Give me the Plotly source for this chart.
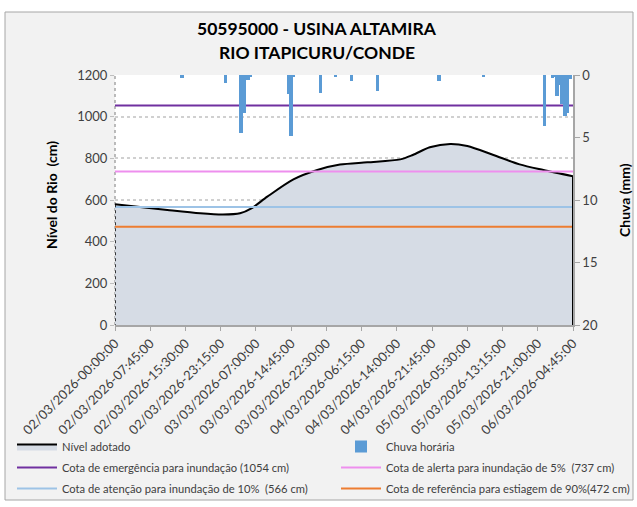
import pandas as pd
import plotly.graph_objects as go

# nivel do rio (cm)
level_times = [
    "2026-03-02 00:00", "2026-03-02 11:30", "2026-03-02 18:45", "2026-03-02 23:45",
    "2026-03-03 03:30", "2026-03-03 06:00", "2026-03-03 09:30", "2026-03-03 15:15",
    "2026-03-03 20:30", "2026-03-04 01:30", "2026-03-04 07:30", "2026-03-04 14:45",
    "2026-03-04 17:30", "2026-03-04 21:15", "2026-03-05 01:45", "2026-03-05 05:30",
    "2026-03-05 11:15", "2026-03-05 17:00", "2026-03-05 22:15", "2026-03-06 04:45",
]
level_cm = [580, 552, 536, 530, 536, 560, 616, 699, 744, 770, 781, 795,
            816, 853, 869, 859, 816, 771, 744, 714]

# chuva (mm)
rain_times = [
    "2026-03-02 14:45", "2026-03-03 00:15", "2026-03-03 03:45", "2026-03-03 04:30",
    "2026-03-03 05:15", "2026-03-03 05:45", "2026-03-03 14:15", "2026-03-03 14:45",
    "2026-03-03 15:15", "2026-03-03 21:15", "2026-03-04 00:30", "2026-03-04 04:00",
    "2026-03-04 09:45", "2026-03-04 23:15", "2026-03-05 09:00", "2026-03-05 22:30",
    "2026-03-06 00:15", "2026-03-06 00:45", "2026-03-06 01:15", "2026-03-06 01:45",
    "2026-03-06 02:15", "2026-03-06 03:00", "2026-03-06 03:30", "2026-03-06 04:15",
]
rain_mm = [0.2, 0.6, 4.6, 3.0, 0.4, 0.15, 1.5, 4.9, 0.1, 1.4, 0.15, 0.45,
           1.25, 0.45, 0.15, 4.1, 0.2, 0.1, 1.7, 0.8, 2.3, 3.3, 3.0, 0.3]

# cotas de referencia
quota_names = [
    "Cota de emergência para inundação (1054 cm)",
    "Cota de alerta para inundação de 5%  (737 cm)",
    "Cota de atenção para inundação de 10%  (566 cm)",
    "Cota de referência para estiagem de 90%(472 cm)",
]
quota_values = [1054, 737, 566, 472]
quota_colors = ["#7030A0", "#EE8FEE", "#9DC3E6", "#ED7D31"]
quota_legends = ["legend", "legend2", "legend", "legend2"]

tick_labels = [
    "02/03/2026-00:00:00", "02/03/2026-07:45:00", "02/03/2026-15:30:00",
    "02/03/2026-23:15:00", "03/03/2026-07:00:00", "03/03/2026-14:45:00",
    "03/03/2026-22:30:00", "04/03/2026-06:15:00", "04/03/2026-14:00:00",
    "04/03/2026-21:45:00", "05/03/2026-05:30:00", "05/03/2026-13:15:00",
    "05/03/2026-21:00:00", "06/03/2026-04:45:00",
]
tick_vals = pd.to_datetime(tick_labels, format="%d/%m/%Y-%H:%M:%S")

t_level = pd.to_datetime(level_times)
t_rain = pd.to_datetime(rain_times)
t0, t1 = t_level[0], t_level[-1]

FONT = "Lato"
W, H = 637, 507
# plot area in pixels: x 115..573, y 75..325
def px(x):
    return (x - 115) / 458
def py(y):
    return (325 - y) / 250

fig = go.Figure()

fig.add_trace(go.Scatter(
    x=t_level, y=level_cm, name="Nível adotado", legend="legend", legendgroup="a",
    mode="lines", line=dict(color="black", width=2, shape="spline", smoothing=0.8),
    fill="tozeroy", fillcolor="#D6DCE5",
))
fig.add_trace(go.Bar(
    x=t_rain, y=rain_mm, name="Chuva horária", yaxis="y2", legend="legend2", legendgroup="b",
    marker=dict(color="#5B9BD5", line=dict(width=0)),
    width=45 * 60 * 1000,
))
for i, (name, val, col, lg) in enumerate(zip(quota_names, quota_values, quota_colors, quota_legends)):
    fig.add_trace(go.Scatter(
        x=[t0, t1], y=[val, val], name=name, mode="lines", legend=lg, legendgroup=f"q{i}",
        line=dict(color=col, width=2),
    ))

# bordas da area
fig.add_trace(go.Scatter(x=[t1, t1], y=[level_cm[-1], 0], mode="lines",
                         line=dict(color="black", width=2), showlegend=False))
fig.add_trace(go.Scatter(x=[t0, t0], y=[level_cm[0], 0], mode="lines",
                         line=dict(color="black", width=1.5, dash="dot"), showlegend=False))

leg_common = dict(
    orientation="v", xref="container", yref="container", xanchor="left", yanchor="top",
    itemwidth=40, tracegroupgap=2, bgcolor="rgba(0,0,0,0)",
    font=dict(size=11.2, family=FONT, color="#404040"),
)

fig.update_layout(
    width=W, height=H,
    margin=dict(l=115, r=64, t=75, b=182, autoexpand=False),
    paper_bgcolor="white", plot_bgcolor="rgba(0,0,0,0)",
    font=dict(family=FONT, color="#404040"),
    xaxis=dict(
        range=[t0, t1], tickvals=tick_vals, ticktext=tick_labels, tickangle=-45,
        tickfont=dict(size=13, color="#404040"), automargin=False,
        showgrid=False, showline=True, linecolor="#A6A6A6", linewidth=1.5,
        ticks="outside", ticklen=4, tickcolor="#A6A6A6",
    ),
    yaxis=dict(
        range=[0, 1200], tickvals=[0, 200, 400, 600, 800, 1000, 1200],
        tickfont=dict(size=13, color="#404040"), automargin=False,
        showgrid=True, gridcolor="#D0D0D0", griddash="dot", gridwidth=1.5,
        zeroline=False, showline=False, ticks="outside", ticklen=4, tickcolor="#BFBFBF",
    ),
    yaxis2=dict(
        range=[20, 0], tickvals=[0, 5, 10, 15, 20], overlaying="y", side="right",
        tickfont=dict(size=13, color="#404040"), automargin=False,
        showgrid=False, zeroline=False, showline=True, linecolor="#A6A6A6", linewidth=1.5,
        ticks="outside", ticklen=5, tickcolor="#A6A6A6",
    ),
    bargap=0, barmode="overlay",
    showlegend=True,
    legend=dict(x=12 / W, y=1 - 432 / H, **leg_common),
    legend2=dict(x=336 / W, y=1 - 432 / H, **leg_common),
    annotations=[
        dict(text="<b>50595000 - USINA ALTAMIRA</b>", xref="paper", yref="paper",
             x=px(317), y=py(28), xanchor="center", yanchor="middle", showarrow=False,
             font=dict(family=FONT, size=17.5, color="black")),
        dict(text="<b>RIO ITAPICURU/CONDE</b>", xref="paper", yref="paper",
             x=px(317), y=py(53), xanchor="center", yanchor="middle", showarrow=False,
             font=dict(family=FONT, size=17.5, color="black")),
        # titulos dos eixos
        dict(text="<b>Nível do Rio  (cm)</b>", xref="paper", yref="paper", textangle=-90,
             x=px(51), y=py(195), xanchor="center", yanchor="middle", showarrow=False,
             font=dict(family=FONT, size=14, color="black")),
        dict(text="<b>Chuva (mm)</b>", xref="paper", yref="paper", textangle=-90,
             x=px(624), y=py(200), xanchor="center", yanchor="middle", showarrow=False,
             font=dict(family=FONT, size=14, color="black")),
    ],
    shapes=[
        dict(type="rect", xref="paper", yref="paper", layer="below",
             x0=px(5), x1=px(633), y0=py(500), y1=py(12),
             fillcolor="#F2F2F2", line=dict(color="#A6A6A6", width=1)),
        dict(type="rect", xref="paper", yref="paper", layer="below",
             x0=0, x1=1, y0=0, y1=1, fillcolor="white", line=dict(width=0)),
        dict(type="line", xref="paper", yref="paper", layer="below",
             x0=0, x1=0, y0=0, y1=1, line=dict(color="#A6A6A6", width=1.5, dash="dot")),
    ],
)

# remove a margem padrao do body para a figura ocupar a janela toda
fig.write_html("out.html", config={"displayModeBar": False},
               post_script="document.body.style.margin='0';")
